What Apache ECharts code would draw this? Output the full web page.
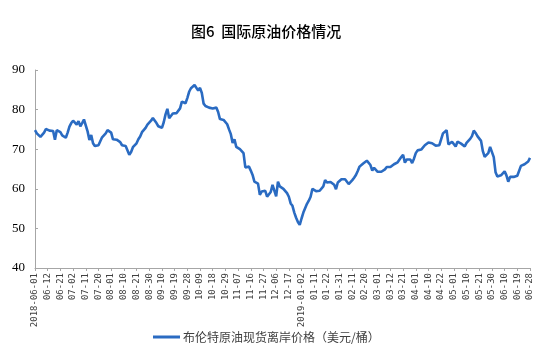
<!DOCTYPE html>
<html>
<head>
<meta charset="utf-8">
<title>图6 国际原油价格情况</title>
<script src="https://cdn.jsdelivr.net/npm/echarts@6/dist/echarts.min.js"></script>
<style>
  html, body { margin: 0; padding: 0; background: #fff; }
  #chart { width: 556px; height: 354px; }
</style>
</head>
<body>
<div id="chart"></div>
<script>
// 交易日：工作日，去掉缺数的几天
const startDay = '2018-06-01';
const endDay = '2019-06-28';
const skipDays = ['2018-07-26', '2018-12-24', '2018-12-25', '2018-12-26', '2018-12-31', '2019-01-01', '2019-04-19'];

// 布伦特原油现货离岸价格（美元/桶），按交易日
const brentPrice = [
  74.8, 74.0, 73.6, 73.1, 73.3, 74.2, 75.1,
  74.9, 74.7, 75.0, 74.6, 72.4, 74.8, 74.9,
  74.3, 73.5, 73.4, 72.9, 74.2, 75.7, 76.6,
  77.2, 76.8, 76.2, 77.1, 75.8, 76.6, 77.5,
  77.8, 74.5, 72.3, 73.6, 71.5, 70.8, 70.6,
  71.0, 72.0, 73.0, 73.4, 74.0, 74.8, 75.0,
  74.2, 72.5, 72.7, 72.4, 72.0, 71.8, 71.0,
  70.9, 70.8, 70.6, 68.6, 69.3, 70.5, 71.0,
  71.5, 72.5, 73.2, 74.3, 74.6, 75.4, 76.2,
  76.3, 77.2, 77.9, 77.6, 76.6, 75.8, 75.6,
  75.4, 76.8, 78.8, 80.2, 77.8, 78.3, 79.0,
  79.5, 79.1, 79.0, 80.3, 82.0, 82.0, 81.6,
  82.9, 84.5, 85.4, 85.8, 86.2, 85.7, 84.8,
  85.5, 84.2, 81.5, 80.9, 80.8, 80.5, 80.1,
  80.3, 80.6, 80.5, 79.4, 77.6, 77.3, 77.4,
  77.6, 76.3, 75.0, 73.8, 71.6, 72.5, 70.6,
  70.3, 70.0, 69.7, 69.0, 65.4, 65.7, 65.6,
  64.6, 63.5, 61.8, 61.7, 61.3, 58.5, 59.3,
  59.7, 59.5, 58.0, 58.2, 59.2, 61.0, 61.5,
  58.1, 61.8, 60.6, 60.1, 60.0, 59.7, 58.9,
  58.0, 56.3, 55.7, 54.0, 52.7, 51.6, 50.9,
  52.5, 54.0, 54.3, 56.2, 57.0, 58.0, 60.0,
  60.3, 59.4, 58.9, 59.5, 59.9, 60.6, 62.2,
  61.6, 61.8, 61.7, 61.3, 61.0, 59.9, 61.6,
  62.1, 62.4, 62.6, 62.4, 62.3, 61.2, 61.5,
  62.2, 62.8, 63.5, 64.5, 65.6, 66.0, 66.4,
  66.9, 67.1, 67.0, 66.0, 64.6, 65.3, 65.1,
  64.3, 63.8, 64.3, 64.6, 64.9, 65.5, 65.8,
  65.5, 66.0, 66.2, 66.4, 66.7, 67.1, 68.0,
  68.6, 66.6, 67.4, 67.4, 67.4, 66.5, 67.6,
  69.0, 69.7, 69.8, 69.9, 70.3, 71.0, 71.4,
  71.7, 71.7, 71.5, 71.4, 70.9, 70.8, 71.0,
  70.7, 74.0, 73.9, 74.8, 71.2, 71.4, 71.9,
  71.9, 70.7, 71.9, 71.8, 71.4, 71.0, 70.7,
  71.6, 72.0, 72.6, 73.3, 74.7, 74.1, 73.3,
  72.8, 72.1, 69.5, 68.1, 68.0, 69.0, 70.6,
  70.3, 68.0, 64.2, 63.1, 62.7, 63.4, 63.7,
  64.4, 63.4, 61.8, 63.0, 63.2, 63.0, 63.1,
  63.3, 63.5, 65.8, 65.5, 66.2, 66.7, 66.9,
  67.8
];

const yTicks = [40, 50, 60, 70, 80, 90];
const labelStep = 7; // 每7个交易日一个标签

function tradingDays(from, to, skip) {
  const list = [];
  const d = new Date(from + 'T00:00:00Z');
  const end = new Date(to + 'T00:00:00Z');
  while (d <= end) {
    const s = d.toISOString().slice(0, 10);
    const wd = d.getUTCDay();
    if (wd !== 0 && wd !== 6 && skip.indexOf(s) < 0) list.push(s);
    d.setUTCDate(d.getUTCDate() + 1);
  }
  return list;
}

const dates = tradingDays(startDay, endDay, skipDays);

const myChart = echarts.init(document.getElementById('chart'), null, { renderer: 'canvas' });

const options = {
  animation: false,
  backgroundColor: '#fff',
  title: {
    text: '图6  国际原油价格情况',
    left: 186,
    top: 19,
    textStyle: {
      fontFamily: 'Noto Sans CJK SC',
      fontSize: 15,
      fontWeight: 500,
      color: '#000'
    }
  },
  legend: {
    bottom: 6,
    left: 148,
    icon: 'rect',
    itemWidth: 27,
    itemHeight: 3,
    itemGap: 4,
    textStyle: {
      fontFamily: 'Noto Sans CJK SC',
      fontSize: 12,
      color: '#404040',
      padding: [0, 0, 0, -2]
    },
    data: ['布伦特原油现货离岸价格（美元/桶）']
  },
  grid: {
    left: 35,
    right: 26,
    top: 70,
    bottom: 86,
    containLabel: false
  },
  xAxis: {
    type: 'category',
    data: dates,
    boundaryGap: false,
    axisLine: { lineStyle: { color: '#a6a6a6', width: 1 } },
    axisTick: { interval: labelStep - 1, length: 3, lineStyle: { color: '#a6a6a6' } },
    axisLabel: {
      interval: labelStep - 1,
      rotate: 90,
      margin: 5,
      fontFamily: 'DejaVu Sans Mono',
      fontSize: 9,
      color: '#404040',
      formatter: function (val, idx) {
        if (idx === 0 || dates[idx - labelStep].slice(0, 4) !== val.slice(0, 4)) return val;
        return val.slice(5);
      }
    },
    splitLine: { show: false }
  },
  yAxis: {
    type: 'value',
    min: yTicks[0],
    max: yTicks[yTicks.length - 1],
    interval: 10,
    axisLine: { show: true, lineStyle: { color: '#a6a6a6', width: 1 } },
    axisTick: { show: true, inside: true, length: 3, lineStyle: { color: '#a6a6a6' } },
    axisLabel: {
      margin: 10,
      fontFamily: 'Liberation Serif',
      fontSize: 13,
      color: '#000'
    },
    splitLine: { show: false }
  },
  series: [{
    name: '布伦特原油现货离岸价格（美元/桶）',
    type: 'line',
    data: brentPrice,
    symbol: 'none',
    smooth: false,
    lineStyle: { color: '#2a6bc2', width: 2.6 },
    itemStyle: { color: '#2a6bc2' }
  }]
};

myChart.setOption(options);
</script>
</body>
</html>
